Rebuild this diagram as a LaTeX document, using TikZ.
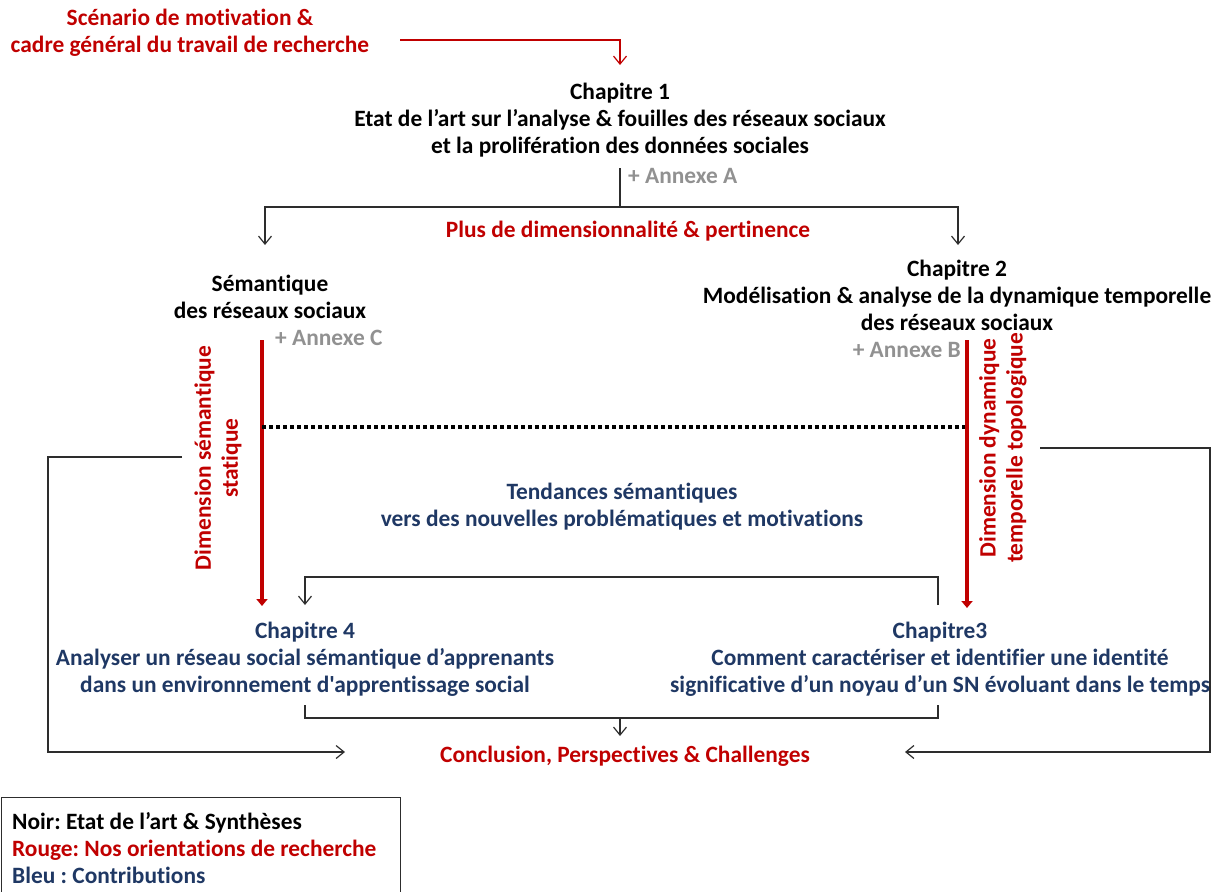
\documentclass[tikz,border=0pt]{standalone}
\usepackage{fontspec}
\newfontfamily\cbf{Carlito}[Ligatures=NoCommon]
\usetikzlibrary{arrows.meta}
\definecolor{rouge}{RGB}{192,0,0}
\definecolor{bleu}{RGB}{31,56,100}
\definecolor{gris}{RGB}{145,145,145}
\definecolor{trait}{RGB}{45,45,45}
\frenchspacing
\tikzset{
  txt/.style={font=\cbf\bfseries\fontsize{23.4}{27}\selectfont, align=center, inner sep=0pt},
  lien/.style={draw=trait, line width=1.3pt},
  fleche/.style={lien, -{Straight Barb[length=8pt,width=13pt,line width=1.2pt]}},
  flecherouge/.style={draw=rouge, line width=1.3pt, -{Straight Barb[length=8pt,width=13pt,line width=1.2pt]}},
  axe/.style={draw=rouge, line width=4pt, -{Triangle[length=7pt,width=11pt]}},
  pointille/.style={draw=black, line width=4pt, dash pattern=on 4pt off 3pt}
}
\begin{document}
\begin{tikzpicture}[x=1pt,y=-1pt]
\useasboundingbox (0,0) rectangle (1222,891);

% --- text blocks ---
\node[txt,rouge] (scen) at (190,33) {Scénario de motivation \&\\cadre général du travail de recherche};
\node[txt] (ch1) at (620,120) {Chapitre 1\\Etat de l’art sur l’analyse \& fouilles des réseaux sociaux\\et la prolifération des données sociales};
\node[txt,gris,anchor=west] (annA) at (628,176) {+ Annexe A};
\node[txt,rouge] (plus) at (628,231) {Plus de dimensionnalité \& pertinence};
\node[txt] (sem) at (270,297) {Sémantique\\des réseaux sociaux};
\node[txt,gris,anchor=west] (annC) at (275,338) {+ Annexe C};
\node[txt] (ch2) at (957,295) {Chapitre 2\\Modélisation \& analyse de la dynamique temporelle\\des réseaux sociaux};
\node[txt,gris,anchor=east] (annB) at (961,350) {+ Annexe B};
\node[txt,rouge,rotate=90] (dimS) at (218,458) {Dimension sémantique\\statique};
\node[txt,rouge,rotate=90] (dimD) at (1003,448) {Dimension dynamique\\temporelle topologique};
\node[txt,bleu] (tend) at (622,507) {Tendances sémantiques\\vers des nouvelles problématiques et motivations};
\node[txt,bleu] (ch4) at (305,659) {Chapitre 4\\Analyser un réseau social sémantique d’apprenants\\dans un environnement d'apprentissage social};
\node[txt,bleu] (ch3) at (940,659) {Chapitre3\\Comment caractériser et identifier une identité\\significative d’un noyau d’un SN évoluant dans le temps};
\node[txt,rouge] (concl) at (625,756) {Conclusion, Perspectives \& Challenges};

% --- legend ---
\node[draw=trait, line width=1.3pt, anchor=north west, minimum width=399pt, minimum height=130pt] (legbox) at (0.7,797) {};
\node[txt, align=left, anchor=north west] (leg) at (12,812) {Noir: Etat de l’art \& Synthèses\\\textcolor{rouge}{Rouge: Nos orientations de recherche}\\\textcolor{bleu}{Bleu : Contributions}};

% --- connection points ---
\coordinate (s0) at (400,40);
\coordinate (s1) at (620,65);
\coordinate (a0) at (620,168);
\coordinate (a1) at (620,207);
\coordinate (semin) at (265,245);
\coordinate (ch2in) at (958,245);
\coordinate (rs0) at (262,340);
\coordinate (rs1) at (262,606);
\coordinate (rd0) at (967,340);
\coordinate (rd1) at (967,608);
\coordinate (d0) at (262,427);
\coordinate (d1) at (965,427);
\coordinate (c3a) at (938,605);
\coordinate (c4a) at (305,605);
\coordinate (c4b) at (305,705);
\coordinate (c3b) at (938,705);
\coordinate (m0) at (620,718);
\coordinate (m1) at (620,736);
\coordinate (l0) at (182,457);
\coordinate (l1) at (345,752);
\coordinate (r0) at (1040,448);
\coordinate (r1) at (905,752);

% --- connectors ---
\draw[flecherouge] (s0) -| (s1);
\draw[fleche] (a0) -- (a1) -| (semin);
\draw[fleche] (a1) -| (ch2in);
\draw[axe] (rs0) -- (rs1);
\draw[axe] (rd0) -- (rd1);
\draw[pointille] (d0) -- (d1);
\draw[fleche] (c3a) -- ++(0,-28) -| (c4a);
\draw[lien] (c4b) -- ++(0,13) -| (c3b);
\draw[fleche] (m0) -- (m1);
\draw[fleche] (l0) -- ++(-134,0) |- (l1);
\draw[fleche] (r0) -- ++(170,0) |- (r1);
\end{tikzpicture}
\end{document}
